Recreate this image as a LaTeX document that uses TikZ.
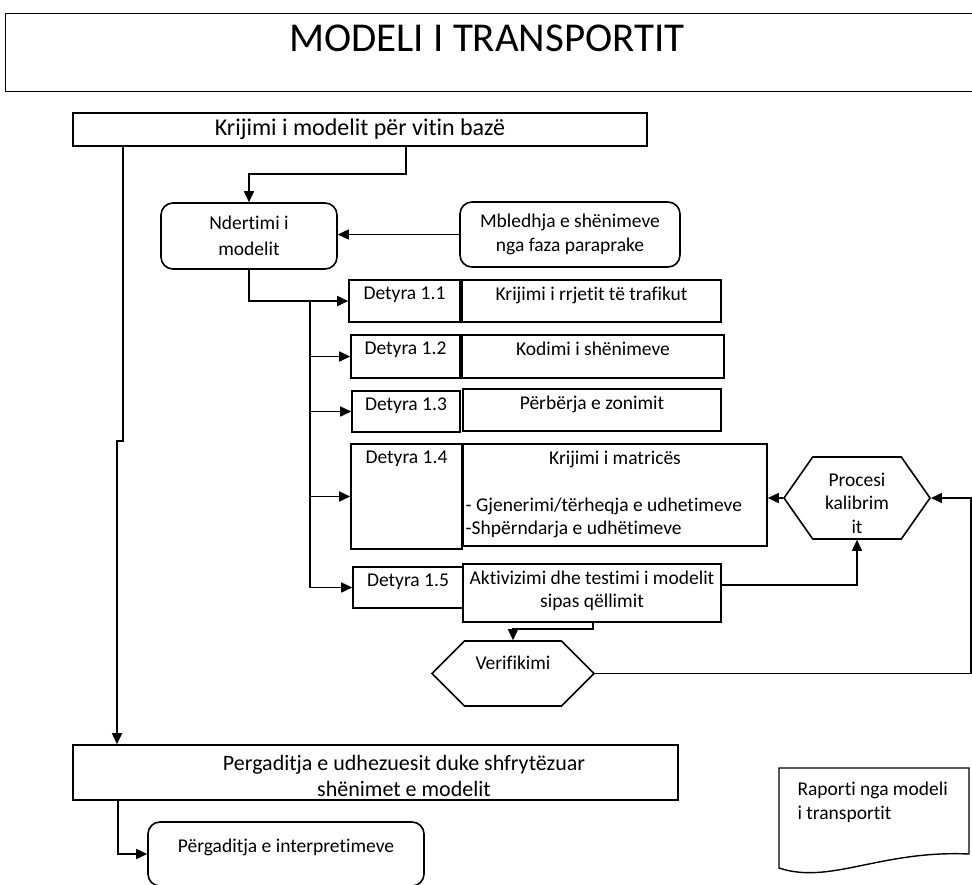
\documentclass[tikz,border=0pt]{standalone}
\usepackage{fontspec}
\setmainfont{Carlito}[Ligatures=NoCommon]
\usepackage{tikz}
\usetikzlibrary{arrows.meta,shapes.symbols}

\begin{document}
\begin{tikzpicture}[
    x=1pt, y=-1pt,
    font=\fontsize{19.5}{23.5}\selectfont,
    kuti/.style={rectangle, draw, line width=1.6pt, inner sep=0pt},
    kutir/.style={kuti, rounded corners=12pt},
    gjashtek/.style={signal, signal to=east and west, draw, line width=1.6pt,
      inner sep=0pt},
    lart/.style={label={[anchor=north, yshift=-4pt, align=center]north:#1}},
    shigjete/.style={-{Triangle[length=11pt, width=10pt]}, line width=1.6pt}
  ]
  \useasboundingbox (0,0) rectangle (972,884);

  % titulli
  \node[kuti, line width=1.4pt, anchor=north west, minimum width=1000pt,
        minimum height=78pt] (korniza) at (5,13) {};
  \node[font=\fontsize{41}{49}\selectfont] (titulli) at (487,38.5)
    {MODELI I TRANSPORTIT};

  % modeli per vitin baze
  \node[kuti, minimum width=574pt, minimum height=33pt,
        font=\fontsize{24}{29}\selectfont] (baza) at (360,129.5)
    {Krijimi i modelit për vitin bazë};
  \node[kutir, minimum width=176pt, minimum height=66pt, align=center,
        font=\fontsize{19.5}{26}\selectfont] (ndert) at (249,236)
    {Ndertimi i\\modelit};
  \node[kutir, minimum width=220pt, minimum height=65pt, align=center,
        font=\fontsize{19.5}{24}\selectfont] (mbl) at (570,234.5)
    {Mbledhja e shënimeve\\nga faza paraprake};

  % detyrat
  \node[kuti, minimum width=111pt, minimum height=42pt, lart={Detyra 1.1}] (d11) at (404.5,301) {};
  \node[kuti, minimum width=259pt, minimum height=42pt,
        lart={Krijimi i rrjetit të trafikut}] (t11) at (591.5,301) {};
  \node[kuti, minimum width=109pt, minimum height=43pt, lart={Detyra 1.2}] (d12) at (405.5,356.5) {};
  \node[kuti, minimum width=262pt, minimum height=43pt,
        lart={Kodimi i shënimeve}] (t12) at (593,356.5) {};
  \node[kuti, minimum width=108pt, minimum height=41pt, lart={Detyra 1.3}] (d13) at (406,411.5) {};
  \node[kuti, minimum width=258pt, minimum height=42pt,
        lart={Përbërja e zonimit}] (t13) at (592,410) {};
  \node[kuti, minimum width=111pt, minimum height=105pt, lart={Detyra 1.4}] (d14) at (406.5,496.5) {};
  \node[kuti, minimum width=304pt, minimum height=102pt, lart={Krijimi i matricës},
        label={[anchor=south west, yshift=5pt, align=left]south west:{- Gjenerimi/tërheqja e udhetimeve\\-Shpërndarja e udhëtimeve}}]
    (matr) at (615,495) {};
  \node[kuti, minimum width=110pt, minimum height=41pt, lart={Detyra 1.5}] (d15) at (408,587.5) {};
  \node[kuti, minimum width=258pt, minimum height=58pt,
        font=\fontsize{19.5}{25}\selectfont,
        lart={Aktivizimi dhe testimi i modelit\\sipas qëllimit}] (akt) at (592,593) {};

  % kalibrimi dhe verifikimi
  \node[gjashtek, signal pointer angle=110, minimum width=146pt, minimum height=82pt,
        label={[anchor=center, yshift=-5pt, align=center]center:{Procesi\\kalibrim\\it}}]
    (proc) at (857,498) {};
  \node[gjashtek, signal pointer angle=90, minimum width=162pt, minimum height=65pt,
        label={[anchor=north, yshift=-12pt]north:Verifikimi}] (verif) at (513,673.5) {};

  % udhezuesi
  \node[kuti, minimum width=605pt, minimum height=55pt,
        label={[anchor=center, xshift=28.5pt, yshift=-3pt, align=center,
                font=\fontsize{22}{26}\selectfont]center:{Pergaditja e udhezuesit duke shfrytëzuar\\shënimet e modelit}}]
    (pergad) at (375.5,772.5) {};
  \node[kutir, minimum width=276pt, minimum height=64pt,
        label={[anchor=north, yshift=-14pt]north:Përgaditja e interpretimeve}]
    (interp) at (286,854) {};

  % raporti
  \draw[line width=1.4pt] (779,768) -- (969,768) -- (969,854)
    .. controls (880,850) and (830,885) .. (779,868) -- cycle;
  \node[anchor=west, align=left, font=\fontsize{19.5}{24}\selectfont] (raport) at (794,802)
    {Raporti nga modeli\\i transportit};

  % lidhjet
  \draw[shigjete] (baza.south) ++(46,0) -- ++(0,27) -| (ndert.north);
  \draw[shigjete] (mbl.west) -- (mbl.west -| ndert.east);
  \draw[shigjete] (ndert.south) |- (d11.west);
  \coordinate (trungu) at (310,301);
  \draw[shigjete] (trungu) |- (d15.west);
  \foreach \d in {d12,d13,d14}
    \draw[shigjete] (trungu |- \d.west) -- (\d.west);
  \coordinate (thyerja) at (117,441);
  \draw[shigjete] (baza.south) ++(-237,0) |- (thyerja) -- (thyerja |- pergad.north);
  \draw[shigjete] (pergad.south) ++(-257.5,0) |- (interp.west);
  \draw[shigjete] (proc.west) -- (proc.west -| matr.east);
  \draw[shigjete] ([yshift=8pt]akt.east) -| (proc.south);
  \draw[shigjete] (akt.south) ++(1,0) -- ++(0,6) -| (verif.north);
  \draw[shigjete] (verif.east) -- ++(376,0) |- (proc.east);
\end{tikzpicture}
\end{document}
